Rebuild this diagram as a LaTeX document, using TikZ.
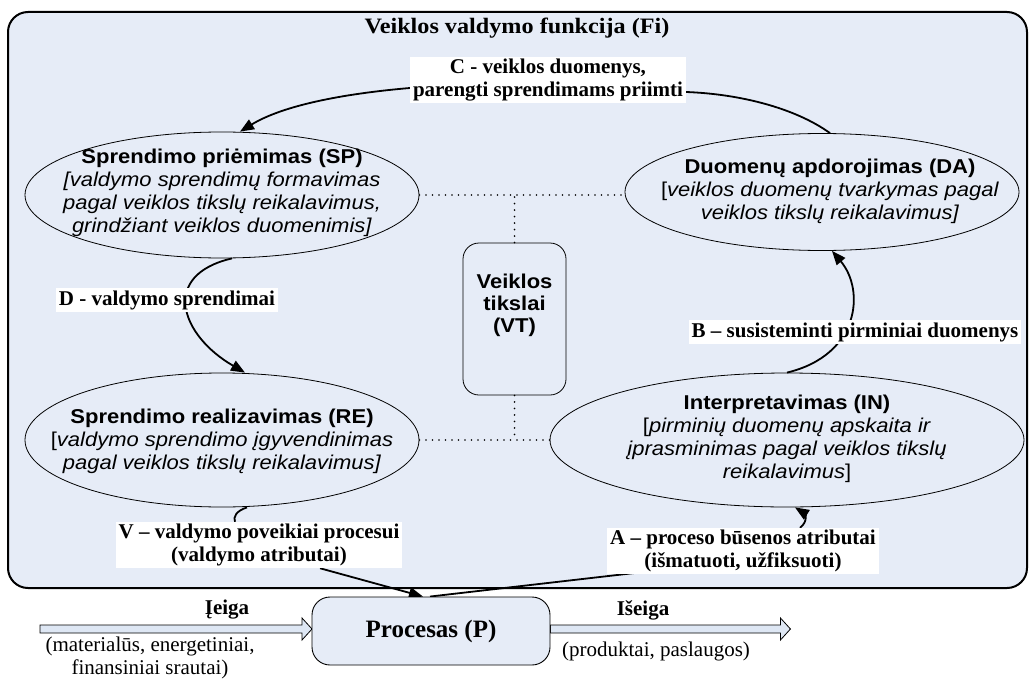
\documentclass[tikz,border=0pt]{standalone}
\usepackage{fontspec}
\setmainfont{Liberation Serif}
\newfontfamily\titlefont{Liberation Serif}[FakeStretch=1.1]
\newfontfamily\ovalfont{Liberation Sans}[FakeStretch=1.1]
\usetikzlibrary{shapes.geometric,arrows.meta}
\pgfdeclarelayer{back}
\pgfdeclarelayer{mid}
\pgfsetlayers{back,mid,main}
\definecolor{panel}{RGB}{230,236,247}
\definecolor{flow}{RGB}{222,231,244}

\begin{document}
\begin{tikzpicture}[x=1pt,y=-1pt,
  every node/.style={inner sep=0pt},
  oval/.style={ellipse, draw, line width=0.8pt},
  otext/.style={font=\ovalfont\fontsize{20}{23}\selectfont, align=center},
  tag/.style={fill=white, font=\bfseries\fontsize{21}{23}\selectfont, align=center,
              inner xsep=3pt, inner ysep=2pt},
  conn/.style={line width=1.8pt},
  arr/.style={conn, -{Triangle[length=14pt,width=11pt]}},
  dots/.style={line width=1.8pt, dash pattern=on 0pt off 6.5pt, line cap=round},
  plain/.style={font=\fontsize{21}{23}\selectfont, align=center},
  flowname/.style={font=\bfseries\fontsize{21}{23}\selectfont},
  blockarrow/.style={line width=0.8pt, fill=flow}
]
\useasboundingbox (0,0) rectangle (1032,682);

% management function panel
\begin{pgfonlayer}{back}
  \draw[line width=2pt, fill=panel, rounded corners=20pt] (8,12) rectangle (1027,588);
\end{pgfonlayer}
\node[font=\titlefont\bfseries\fontsize{22}{24}\selectfont] (title) at (517,28) {Veiklos valdymo funkcija (Fi)};

% the four activities
\node[oval, minimum width=394pt, minimum height=126pt] (SP) at (222,195) {};
\node[otext] (SPt) at (222,193) {\textbf{Sprendimo priėmimas (SP)}\\
  \textit{[valdymo sprendimų formavimas}\\
  \textit{pagal veiklos tikslų reikalavimus,}\\
  \textit{grindžiant veiklos duomenimis]}};

\node[oval, minimum width=394pt, minimum height=117pt] (DA) at (822,192) {};
\node[otext] (DAt) at (830,191) {\textbf{Duomenų apdorojimas (DA)}\\
  {[}\textit{veiklos duomenų tvarkymas pagal}\\
  \textit{veiklos tikslų reikalavimus]}};

\node[oval, minimum width=394pt, minimum height=134pt] (RE) at (222,440) {};
\node[otext] (REt) at (222,441) {\textbf{Sprendimo realizavimas (RE)}\\
  {[}\textit{valdymo sprendimo įgyvendinimas}\\
  \textit{pagal veiklos tikslų reikalavimus]}};

\node[oval, minimum width=474pt, minimum height=134pt] (IN) at (787,440) {};
\node[otext] (INt) at (787,439) {\textbf{Interpretavimas (IN)}\\
  {[}\textit{pirminių duomenų apskaita ir}\\
  \textit{įprasminimas pagal veiklos tikslų}\\
  \textit{reikalavimus}]};

% goals
\node[draw, line width=0.8pt, rounded corners=16pt, minimum width=103pt, minimum height=152pt] (VT) at (514.5,319) {};
\node[otext, font=\ovalfont\bfseries\fontsize{20}{22}\selectfont] (VTt) at (514.5,305) {Veiklos\\tikslai\\(VT)};

% process
\node[draw, line width=0.9pt, fill=panel, rounded corners=18pt, minimum width=238pt, minimum height=68pt,
      font=\bfseries\fontsize{25}{28}\selectfont] (P) at (431,631) {Procesas (P)};

% flow labels
\node[tag] (Clab) at (548,80) {C - veiklos duomenys,\\parengti sprendimams priimti};
\node[tag] (Dlab) at (167,300) {D - valdymo sprendimai};
\node[tag] (Blab) at (855,332) {B – susisteminti pirminiai duomenys};
\node[tag] (Vlab) at (259,545) {V – valdymo poveikiai procesui\\(valdymo atributai)};
\node[tag] (Alab) at (743,551) {A – proceso būsenos atributai\\(išmatuoti, užfiksuoti)};

% input and output
\node[flowname] (inname) at (227,610) {Įeiga};
\node[plain] (indesc) at (150,658) {(materialūs, energetiniai,\\finansiniai srautai)};
\node[flowname] (outname) at (643,610) {Išeiga};
\node[plain] (outdesc) at (656,651) {(produktai, paslaugos)};
\coordinate (inStart) at (40,629);
\coordinate (outStart) at (P.east |- inStart);

\begin{pgfonlayer}{mid}
  % block arrows into and out of the process
  \draw[blockarrow] (inStart) ++(0,-4) -- ++(262,0) -- ++(0,-7) -- ++(10,11)
    -- ++(-10,11) -- ++(0,-7) -- ++(-262,0) -- cycle;
  \draw[blockarrow] (outStart) ++(0,-4) -- ++(230,0) -- ++(0,-7) -- ++(10,11)
    -- ++(-10,11) -- ++(0,-7) -- ++(-230,0) -- cycle;

  % links to the goals
  \draw[dots] (SP.east) -- (SP.east -| DA.west);
  \draw[dots] (VT.north) -- (VT.north |- SP.east);
  \draw[dots] (RE.east) -- (RE.east -| IN.west);
  \draw[dots] (VT.south) -- (VT.south |- RE.east);

  % information flows
  \draw[conn] ([xshift=8pt]DA.north) .. controls (795,108) and (740,94) .. ([yshift=-12pt]Clab.east);
  \draw[arr] ([yshift=-8pt]Clab.west) .. controls (340,94) and (282,106) .. ([xshift=18pt]SP.north);
  \draw[arr] ([xshift=10pt]SP.south) .. controls (160,275) and (180,335) .. ([xshift=23pt]RE.north);
  \draw[arr] (IN.north) .. controls (860,355) and (865,290) .. ([xshift=10pt]DA.south);
  \draw[conn] ([xshift=25pt]RE.south) .. controls (236,511) and (233,517) .. ([xshift=-24pt]Vlab.north);
  \draw[arr] ([xshift=61pt]Vlab.south) -- ([xshift=-8pt]P.north);
  \draw[conn] ([xshift=-1pt]P.north) -- ([xshift=43pt,yshift=3pt]Alab.south west);
  \draw[arr] ([xshift=57pt]Alab.north) .. controls (809,521) and (804,513) .. ([xshift=8pt]IN.south);
\end{pgfonlayer}
\end{tikzpicture}
\end{document}
